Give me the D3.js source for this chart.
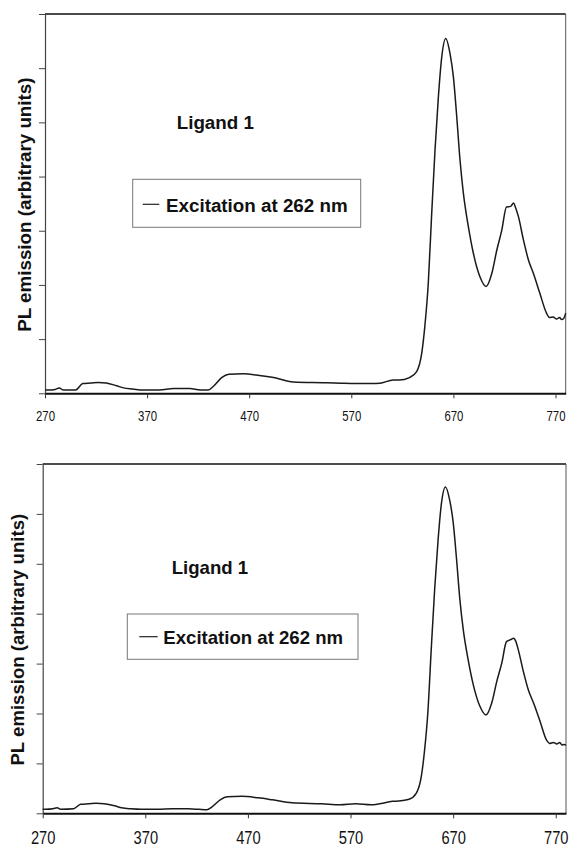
<!DOCTYPE html>
<html>
<head>
<meta charset="utf-8">
<script src="https://cdn.jsdelivr.net/npm/d3@7"></script>
<style>
    body { margin: 0; background: #fff; }
    svg { display: block; font-family: "Liberation Sans", Arial, sans-serif; }
</style>
</head>
<body>
<script>
// wavelength (nm) and PL emission (arbitrary units)
var wavelengths = [270, 273, 280, 284, 288, 300, 307, 315, 322, 330, 340, 347, 356, 366, 382, 396, 412, 422, 430,
    435, 443, 450, 464, 480, 494, 513, 542, 560, 575, 590, 598, 611, 617, 627, 634, 639, 642, 645.4, 648.6, 652,
    655.3, 658.6, 662.5, 666.7, 670, 673.3, 676.5, 679.8, 684.7, 689.6, 696, 702, 707.6, 712.5, 717.4, 722, 726,
    729, 731, 733.7, 738.6, 743.5, 748.4, 754.6, 761.2, 764, 767.7, 771, 774, 776, 778, 780];

var emissionTop = [6, 6, 7, 10, 6, 6, 18, 19, 20, 19, 14, 10, 8, 6, 6, 9, 9, 6, 6,
    13, 29, 35, 36, 33, 29, 21, 19.5, 18.5, 18, 18, 18.5, 24.5, 24.5, 29, 40, 74, 123, 203, 326, 449,
    547, 621, 655, 627, 584, 510, 430, 369, 307, 258, 215, 197, 221, 264, 301, 344, 345,
    351, 342, 326, 283, 246, 221, 185, 148, 140, 141, 137, 140, 136, 138, 148];

var emissionBottom = [8, 8, 9, 11, 8, 9, 18, 19, 20, 19, 15, 11, 9, 8, 8, 9, 9, 8, 7,
    13, 27, 33, 34, 31, 27, 21, 19, 17, 19, 17, 19, 24, 24.5, 28, 40, 74, 123, 203, 326, 449,
    547, 621, 654, 627, 584, 510, 430, 369, 307, 258, 215, 197, 221, 264, 301, 344, 348,
    351, 345, 326, 283, 246, 221, 185, 146, 140, 142, 139, 142, 137, 138, 137];

var xTicks = [270, 370, 470, 570, 670, 770];
var yTicks = [0, 100, 200, 300, 400, 500, 600, 700];
var yTitle = "PL emission (arbitrary units)";
var sampleLabel = "Ligand 1";
var legendLabel = "Excitation at 262 nm";

window.onload = function(){

    var panels = [
        {values: emissionTop, left: 45, right: 565.7, top: 14, bottom: 393.3,
         tickFont: 15.5, tickLen: 19, tickDy: 27.4, titleX: 30.5, textFont: 18.8,
         label: {x: 176.7, y: 129.3},
         legend: {x: 132.7, y: 179.3, w: 228, h: 48, lineX: 142.7, lineW: 16.6, lineY: 204.3, textX: 166, textY: 211.7}},
        {values: emissionBottom, left: 42.7, right: 566, top: 464, bottom: 813.3,
         tickFont: 18.5, tickLen: 24.5, tickDy: 30.7, titleX: 23.5, textFont: 18.6,
         label: {x: 171.7, y: 574.3},
         legend: {x: 127.3, y: 614, w: 230.7, h: 45.3, lineX: 139.3, lineW: 18.4, lineY: 636.7, textX: 163.3, textY: 644}}
    ];

    var svg = d3.select(document.body).append('svg')
        .attr('width', 570)
        .attr('height', 848);

    function drawPanel(p){
        var x = d3.scaleLinear().domain([270, 780]).range([p.left, p.right]);
        var y = d3.scaleLinear().domain([0, 700]).range([p.bottom, p.top]);
        var g = svg.append('g');

        // frame
        g.append('line')
            .attr('x1', p.left).attr('x2', p.right)
            .attr('y1', p.top).attr('y2', p.top)
            .attr('stroke', '#111').attr('stroke-width', 1.6);
        g.append('line')
            .attr('x1', p.right).attr('x2', p.right)
            .attr('y1', p.top).attr('y2', p.bottom)
            .attr('stroke', '#555').attr('stroke-width', 1);

        // y axis, ticks only
        var yAxis = g.append('g')
            .attr('transform', `translate(${p.left},0)`)
            .call(d3.axisLeft(y).tickValues(yTicks).tickSize(6).tickSizeOuter(0).tickFormat(''));
        yAxis.select('.domain').attr('stroke', '#444').attr('stroke-width', 1.2);
        yAxis.selectAll('.tick line').attr('stroke', '#444');

        // x axis
        var xAxis = g.append('g')
            .attr('transform', `translate(0,${p.bottom})`)
            .call(d3.axisBottom(x).tickValues(xTicks).tickSize(5).tickSizeOuter(0));
        xAxis.select('.domain').attr('stroke', '#111').attr('stroke-width', 2);
        xAxis.selectAll('.tick line').attr('stroke', '#333');
        xAxis.selectAll('.tick text')
            .attr('y', p.tickDy).attr('dy', 0)
            .attr('fill', '#111')
            .style('font-size', p.tickFont + 'px')
            .style('font-family', '"Liberation Sans", Arial, sans-serif')
            .attr('textLength', p.tickLen)
            .attr('lengthAdjust', 'spacingAndGlyphs');

        // spectrum
        var line = d3.line()
            .x(function(d, i){ return x(wavelengths[i]); })
            .y(function(d){ return y(d); })
            .curve(d3.curveMonotoneX);
        g.append('path')
            .datum(p.values)
            .attr('d', line)
            .attr('fill', 'none')
            .attr('stroke', '#1a1a1a')
            .attr('stroke-width', 1.5)
            .attr('stroke-linejoin', 'round');

        // axis title
        g.append('text')
            .attr('transform', `translate(${p.titleX},${(p.top + p.bottom) / 2 + 1}) rotate(-90)`)
            .attr('text-anchor', 'middle')
            .style('font-size', p.textFont + 'px')
            .style('font-weight', 'bold')
            .attr('fill', '#111')
            .text(yTitle);

        // sample label
        g.append('text')
            .attr('x', p.label.x).attr('y', p.label.y)
            .style('font-size', p.textFont + 'px')
            .style('font-weight', 'bold')
            .attr('fill', '#111')
            .text(sampleLabel);

        // legend
        var lg = p.legend;
        g.append('rect')
            .attr('x', lg.x).attr('y', lg.y)
            .attr('width', lg.w).attr('height', lg.h)
            .attr('fill', '#fff')
            .attr('stroke', '#777').attr('stroke-width', 1);
        g.append('line')
            .attr('x1', lg.lineX).attr('x2', lg.lineX + lg.lineW)
            .attr('y1', lg.lineY).attr('y2', lg.lineY)
            .attr('stroke', '#222').attr('stroke-width', 1.2);
        g.append('text')
            .attr('x', lg.textX).attr('y', lg.textY)
            .style('font-size', p.textFont + 'px')
            .style('font-weight', 'bold')
            .attr('fill', '#111')
            .text(legendLabel);
    }

    panels.forEach(drawPanel);
}
</script>
</body>
</html>
